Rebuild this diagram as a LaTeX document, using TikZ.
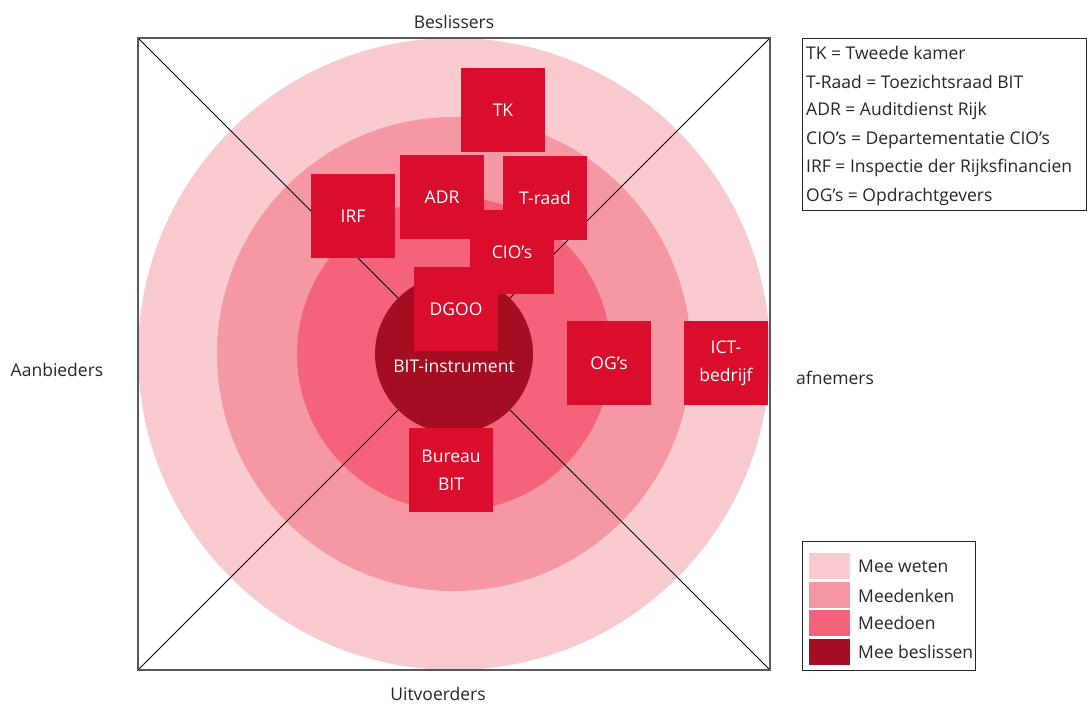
\documentclass[tikz,border=0pt]{standalone}
\usepackage{fontspec}
\setmainfont{Open Sans}
\definecolor{weten}{RGB}{250,202,209}
\definecolor{denken}{RGB}{245,152,163}
\definecolor{doen}{RGB}{244,99,121}
\definecolor{beslis}{RGB}{165,13,34}
\definecolor{boxred}{RGB}{218,14,44}
\definecolor{frame}{RGB}{89,89,89}
\begin{document}
\begin{tikzpicture}[
    x=1pt, y=-1pt,
    actor/.style={fill=boxred, minimum size=84pt, inner sep=0pt, text=white,
      align=center, font=\fontsize{17.5}{28}\selectfont},
    sidetext/.style={font=\fontsize{17.5}{20}\selectfont, text=black!85},
    legtext/.style={font=\fontsize{17.5}{20}\selectfont, text=black!85, anchor=west, inner sep=0pt},
    swatch/.style={minimum width=41pt, minimum height=26pt, inner sep=0pt, anchor=west}
  ]
  \useasboundingbox (0,0) rectangle (1087,707);

  % rings
  \fill [weten] (454,354) circle [radius=316];
  \fill [denken] (454,354) circle [radius=237];
  \fill [doen] (454,354) circle [radius=157];

  % corners of the field
  \coordinate (nw) at (138,38);
  \coordinate (ne) at (770,38);
  \coordinate (se) at (770,670);
  \coordinate (sw) at (138,670);

  % diagonals
  \draw [black, line width=0.8pt] (nw) -- (se);
  \draw [black, line width=0.8pt] (ne) -- (sw);

  % centre
  \node [circle, fill=beslis, minimum size=158pt, inner sep=0pt] (bit) at (454,354) {};
  \node [text=white, font=\fontsize{17.5}{20}\selectfont] (bittext) at (454,366) {BIT-instrument};

  % frame
  \draw [frame, line width=1.6pt] (nw) rectangle (se);

  % stakeholders
  \node [actor] (irf) at (353,216) {IRF};
  \node [actor] (tk) at (503,110) {TK};
  \node [actor] (adr) at (442,197) {ADR};
  \node [actor] (traad) at (545,198) {T-raad};
  \node [actor] (cio) at (512,252) {CIO’s};
  \node [actor] (dgoo) at (456,309) {DGOO};
  \node [actor] (og) at (609,363) {OG’s};
  \node [actor] (ict) at (726,363) {ICT-\\bedrijf};
  \node [actor] (bureau) at (451,470) {Bureau\\BIT};

  % sides
  \node [sidetext] (beslissers) at (454,22) {Beslissers};
  \node [sidetext] (uitvoerders) at (438,694) {Uitvoerders};
  \node [sidetext] (aanbieders) at (57,370) {Aanbieders};
  \node [sidetext] (afnemers) at (835,378) {afnemers};

  % abbreviations
  \draw [black!85, line width=1pt] (802,38) rectangle (1086,210);
  \node [legtext] (ab1) at (806,53) {TK = Tweede kamer};
  \node [legtext] (ab2) at (806,82) {T-Raad = Toezichtsraad BIT};
  \node [legtext] (ab3) at (806,111) {ADR = Auditdienst Rijk};
  \node [legtext] (ab4) at (806,140) {CIO’s = Departementatie CIO’s};
  \node [legtext] (ab5) at (806,168) {IRF = Inspectie der Rijksfinancien};
  \node [legtext] (ab6) at (806,197) {OG’s = Opdrachtgevers};

  % legend
  \draw [black!85, line width=1pt] (802,541) rectangle (975,670);
  \node [swatch, fill=weten] (sw1) at (809,565.5) {};
  \node [swatch, fill=denken] (sw2) at (809,594.5) {};
  \node [swatch, fill=doen] (sw3) at (809,622.5) {};
  \node [swatch, fill=beslis] (sw4) at (809,651.5) {};
  \node [legtext] (lg1) at (858,566) {Mee weten};
  \node [legtext] (lg2) at (858,596) {Meedenken};
  \node [legtext] (lg3) at (858,623) {Meedoen};
  \node [legtext] (lg4) at (858,652) {Mee beslissen};
\end{tikzpicture}
\end{document}
